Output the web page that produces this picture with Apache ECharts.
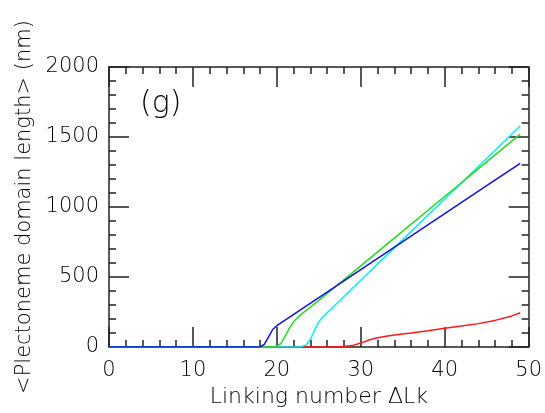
<!DOCTYPE html>
<html>
<head>
<meta charset="utf-8">
<script src="https://cdn.jsdelivr.net/npm/echarts@6/dist/echarts.min.js"></script>
<style>
html,body{margin:0;padding:0;background:#fff;}
#chart{width:545px;height:413px;}
</style>
</head>
<body>
<div id="chart"></div>
<script>
// ---- data ----
var blueX  = [0, 10, 17.5, 18, 18.5, 19, 19.5, 20, 25, 30, 35, 40, 45, 49];
var blueY  = [0, 0, 0, 2, 18, 70, 125, 152, 352, 552, 752, 952, 1152, 1312];

var greenX = [0, 10, 19.8, 20, 20.5, 21, 21.5, 22, 22.5, 23, 24, 25, 30, 35, 40, 45, 49];
var greenY = [0, 0, 0, 3, 25, 80, 135, 180, 212, 238, 285, 333, 580, 828, 1075, 1322, 1520];

var cyanX  = [0, 10, 22.8, 23.5, 24, 24.5, 25, 25.5, 26, 30, 35, 40, 45, 49];
var cyanY  = [0, 0, 0, 15, 55, 120, 180, 215, 245, 477, 767, 1057, 1347, 1579];

var redX   = [0, 10, 27, 28, 29, 30, 31, 32, 33, 34, 36, 38, 40, 42, 44, 46, 48, 49];
var redY   = [0, 0, 0, 3, 10, 28, 50, 66, 76, 85, 100, 116, 134, 150, 167, 190, 222, 245];

var xTicks = [0, 10, 20, 30, 40, 50];
var yTicks = [0, 500, 1000, 1500, 2000];
var xTitle = 'Linking number \u0394Lk';
var yTitle = '<Plectoneme domain length> (nm)';
var panelLabel = '(g)';

function pairs(xs, ys){ return xs.map(function(x,i){ return [x, ys[i]]; }); }

var FONT = 'DejaVu Sans';
var FW = 200;
var TXT = '#000';

function xAxisDef(pos, showLabel){
  return {
    type:'value', position:pos, min:xTicks[0], max:xTicks[xTicks.length-1], interval:10,
    axisLine:{show:true, onZero:false, lineStyle:{color:'#222', width:1.5}},
    axisTick:{show:true, inside:true, length:20, lineStyle:{color:'#222', width:1.5}},
    minorTick:{show:true, splitNumber:5, length:7, lineStyle:{color:'#222', width:1.5}},
    splitLine:{show:false},
    axisLabel:{show:showLabel, fontSize:21, color:TXT, fontFamily:FONT, fontWeight:FW, margin:13,
      formatter:function(v){ return String(v); }},
    name: showLabel ? xTitle : '', nameLocation:'middle', nameGap:39,
    nameTextStyle:{fontSize:22, color:TXT, fontFamily:FONT, fontWeight:FW}
  };
}
function yAxisDef(pos, showLabel){
  return {
    type:'value', position:pos, min:yTicks[0], max:yTicks[yTicks.length-1], interval:500,
    axisLine:{show:true, onZero:false, lineStyle:{color:'#222', width:1.5}},
    axisTick:{show:true, inside:true, length:20, lineStyle:{color:'#222', width:1.5}},
    minorTick:{show:true, splitNumber:5, length:7, lineStyle:{color:'#222', width:1.5}},
    splitLine:{show:false},
    axisLabel:{show:showLabel, fontSize:21, color:TXT, fontFamily:FONT, fontWeight:FW, margin:10,
      formatter:function(v){ return String(v); }},
    name: showLabel ? yTitle : '', nameLocation:'middle', nameGap:73, nameRotate:90,
    nameTextStyle:{fontSize:21, color:TXT, fontFamily:FONT, fontWeight:FW}
  };
}

function lineSeries(data, color){
  return {type:'line', data:data, showSymbol:false, symbol:'none', smooth:false,
    lineStyle:{color:color, width:1.5}, xAxisIndex:0, yAxisIndex:0, z:3};
}

var chart = echarts.init(document.getElementById('chart'), null, {renderer:'canvas'});
chart.setOption({
  animation:false,
  backgroundColor:'#fff',
  grid:{left:109, right:16, top:67, bottom:66, containLabel:false},
  xAxis:[xAxisDef('bottom', true), xAxisDef('top', false)],
  yAxis:[yAxisDef('left', true), yAxisDef('right', false)],
  series:[
    lineSeries(pairs(redX, redY), '#ff1a1a'),
    lineSeries(pairs(cyanX, cyanY), '#00f0f0'),
    lineSeries(pairs(greenX, greenY), '#22dd22'),
    lineSeries(pairs(blueX, blueY), '#1010ee')
  ],
  graphic:[{type:'text', left:140, top:89,
    style:{text:panelLabel, fontSize:30, fill:TXT, fontFamily:FONT, fontWeight:FW}}]
});
</script>
</body>
</html>
